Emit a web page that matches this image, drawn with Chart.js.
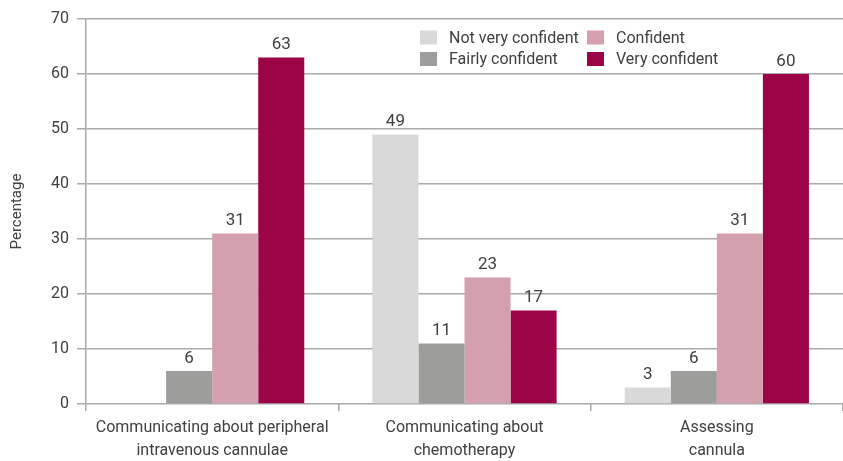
<!DOCTYPE html>
<html>
<head>
<meta charset="utf-8">
<script src="https://cdn.jsdelivr.net/npm/chart.js@4/dist/chart.umd.min.js"></script>
<style>
  body { margin: 0; background: #fff; }
  canvas { display: block; }
</style>
</head>
<body>
<canvas id="chart" width="843" height="461"></canvas>
<script>
const categories = [
  ['Communicating about peripheral', 'intravenous cannulae'],
  ['Communicating about', 'chemotherapy'],
  ['Assessing', 'cannula']
];
const seriesNames = ['Not very confident', 'Fairly confident', 'Confident', 'Very confident'];
const notVeryConfident = [null, 49, 3];
const fairlyConfident = [6, 11, 6];
const confident = [31, 23, 31];
const veryConfident = [63, 17, 60];
const yTicks = [0, 10, 20, 30, 40, 50, 60, 70];

const colors = ['#d9d9d9', '#9d9d9c', '#d5a0ae', '#9b0547'];
const textColor = '#404040';
const gridColor = '#aaaaaa';
const fontFamily = 'Roboto, "DejaVu Sans Condensed", sans-serif';

// value labels above each bar
const valueLabels = {
  id: 'valueLabels',
  afterDatasetsDraw(chart) {
    const ctx = chart.ctx;
    ctx.save();
    ctx.font = '17px ' + fontFamily;
    ctx.fillStyle = textColor;
    ctx.textAlign = 'center';
    ctx.textBaseline = 'bottom';
    chart.data.datasets.forEach((ds, i) => {
      chart.getDatasetMeta(i).data.forEach((bar, j) => {
        const v = ds.data[j];
        if (v == null) return;
        ctx.fillText(String(v), bar.x, bar.y - 4);
      });
    });
    ctx.restore();
  }
};

// two-column legend in the top right of the plot
const gridLegend = {
  id: 'gridLegend',
  afterDraw(chart) {
    const ctx = chart.ctx;
    const order = [0, 2, 1, 3];
    ctx.save();
    ctx.font = '16px ' + fontFamily;
    ctx.textBaseline = 'middle';
    order.forEach((dsIndex, k) => {
      const col = k % 2, row = Math.floor(k / 2);
      const x = 420 + col * 167;
      const y = 37.5 + row * 21.5;
      ctx.fillStyle = colors[dsIndex];
      ctx.fillRect(x, y - 7, 17, 14);
      ctx.fillStyle = textColor;
      ctx.fillText(seriesNames[dsIndex], x + 29, y + 1);
    });
    ctx.restore();
  }
};

const seriesData = [notVeryConfident, fairlyConfident, confident, veryConfident];

new Chart(document.getElementById('chart'), {
  type: 'bar',
  data: {
    labels: categories,
    datasets: seriesNames.map((name, i) => ({
      label: name,
      data: seriesData[i],
      backgroundColor: colors[i],
      categoryPercentage: 0.73,
      barPercentage: 1.0
    }))
  },
  options: {
    responsive: false,
    devicePixelRatio: 1,
    animation: false,
    layout: { padding: { top: 19, right: 0, left: 0, bottom: 0 } },
    plugins: {
      legend: { display: false },
      tooltip: { enabled: false }
    },
    scales: {
      x: {
        grid: {
          offset: true,
          drawOnChartArea: false,
          drawTicks: true,
          tickLength: 7,
          color: gridColor,
          lineWidth: 1.5
        },
        border: { display: false },
        ticks: {
          color: textColor,
          font: { family: fontFamily, size: 16, lineHeight: 1.44 },
          padding: 5,
          maxRotation: 0,
          autoSkip: false
        },
        afterFit(scale) { scale.height = 57; }
      },
      y: {
        min: 0,
        max: 70,
        afterBuildTicks(scale) { scale.ticks = yTicks.map(v => ({ value: v })); },
        grid: {
          color: gridColor,
          lineWidth: 1.5,
          tickLength: 9
        },
        border: { display: true, color: gridColor, width: 1.5 },
        ticks: {
          color: textColor,
          font: { family: fontFamily, size: 16 },
          padding: 8
        },
        title: {
          display: true,
          text: 'Percentage',
          color: textColor,
          font: { family: fontFamily, size: 15 },
          padding: { top: 8, bottom: 0 }
        },
        afterFit(scale) { scale.width = 86; }
      }
    }
  },
  plugins: [valueLabels, gridLegend]
});
</script>
</body>
</html>
